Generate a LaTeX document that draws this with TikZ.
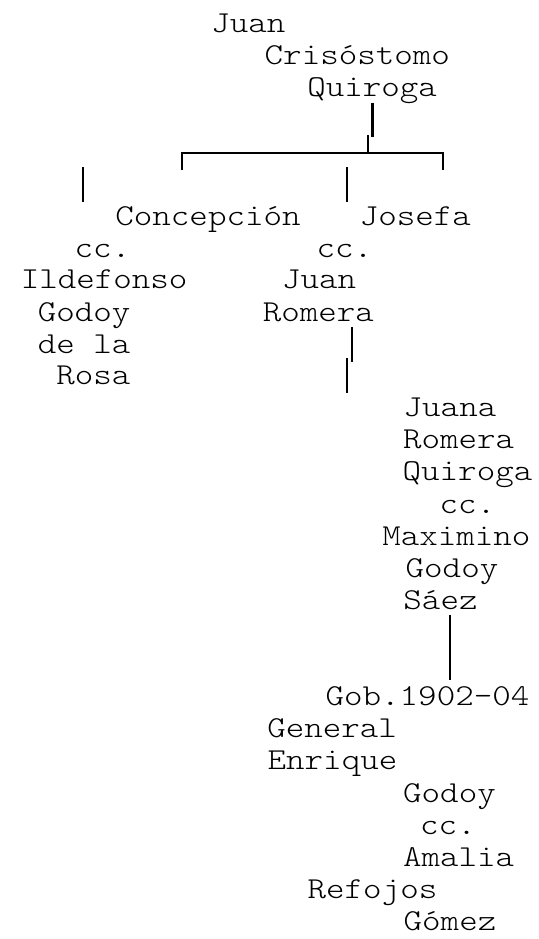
\documentclass[tikz,border=0pt]{standalone}
\usepackage{fontspec}
\newfontfamily\courlike{Latin Modern Mono Light}[FakeStretch=1.16]
\begin{document}
\begin{tikzpicture}[x=1pt,y=-1pt,
  lbl/.style={anchor=base,inner sep=0pt,font=\courlike\fontsize{30.4}{32}\selectfont},
  wire/.style={line width=2.4pt,black}]
\useasboundingbox (0,0) rectangle (538,939);
% names
\node[lbl] (juan)   at (248.3,33)  {Juan};
\node[lbl] (cris)   at (357.3,65)  {Crisóstomo};
\node[lbl] (quir)   at (372.2,97)  {Quiroga};
\node[lbl] (conc)   at (208,225)   {Concepción};
\node[lbl] (jose)   at (415.3,225) {Josefa};
\node[lbl] (cc1)    at (102.5,257) {cc.};
\node[lbl] (ilde)   at (104.2,288.5) {Ildefonso};
\node[lbl] (godoy1) at (84.2,321)  {Godoy};
\node[lbl] (dela)   at (84.2,353)  {de la};
\node[lbl] (rosa)   at (93.3,384)  {Rosa};
\node[lbl] (cc2)    at (344.5,257) {cc.};
\node[lbl] (juan2)  at (319.2,288.5) {Juan};
\node[lbl] (rome1)  at (318.3,321) {Romera};
\node[lbl] (juana)  at (450,416)   {Juana};
\node[lbl] (rome2)  at (458.7,448) {Romera};
\node[lbl] (quir2)  at (467.5,480) {Quiroga};
\node[lbl] (cc3)    at (467.5,513) {cc.};
\node[lbl] (maxi)   at (456.3,545) {Maximino};
\node[lbl] (godoy2) at (452,577)   {Godoy};
\node[lbl] (saez)   at (440.5,609) {Sáez};
\node[lbl] (gob)    at (427.5,705) {Gob.1902-04};
\node[lbl] (gen)    at (332.2,737) {General};
\node[lbl] (enri)   at (332.5,769) {Enrique};
\node[lbl] (godoy3) at (449.5,802) {Godoy};
\node[lbl] (cc4)    at (448,834)   {cc.};
\node[lbl] (amal)   at (458.7,866) {Amalia};
\node[lbl] (refo)   at (372.5,898) {Refojos};
\node[lbl] (gome)   at (450,930)   {Gómez};
% connector points
\coordinate (a1) at (372.5,103);
\coordinate (a2) at (372.5,137);
\coordinate (b1) at (368,135);
\coordinate (b2) at (368,153);
\coordinate (hl) at (182,153);
\coordinate (hr) at (443,153);
\coordinate (tl) at (182,170);
\coordinate (tr) at (443,170);
\coordinate (s1a) at (83,167);
\coordinate (s1b) at (83,202);
\coordinate (s2a) at (346.7,167);
\coordinate (s2b) at (346.7,202);
\coordinate (r1a) at (352,327);
\coordinate (r1b) at (352,362);
\coordinate (r2a) at (347,358);
\coordinate (r2b) at (347,393);
\coordinate (g1) at (450,615);
\coordinate (g2) at (450,680);
% connectors
\draw[wire] (a1) -- (a2);
\draw[wire] (b1) -- (b2);
\draw[wire] (tl) -- (hl) -- (hr) -- (tr);
\draw[wire] (s1a) -- (s1b);
\draw[wire] (s2a) -- (s2b);
\draw[wire] (r1a) -- (r1b);
\draw[wire] (r2a) -- (r2b);
\draw[wire] (g1) -- (g2);
\end{tikzpicture}
\end{document}
